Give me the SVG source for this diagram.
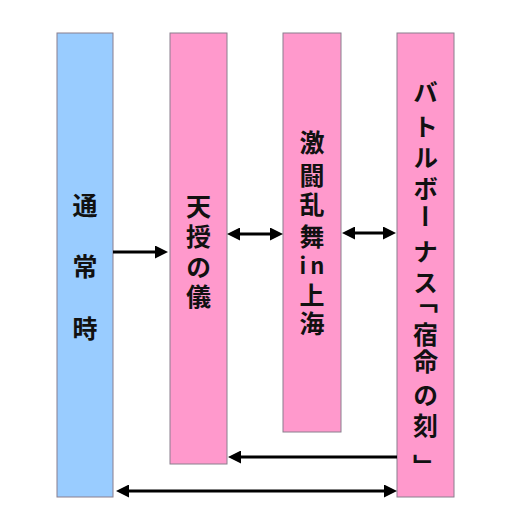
<svg xmlns="http://www.w3.org/2000/svg" width="510" height="530" viewBox="0 0 510 530">
<style>
.box{stroke:#8a7f8e;stroke-width:1}
.blue{fill:#99CCFF}
.pink{fill:#FF99CC}
.t{font-family:"Noto Sans CJK JP","Noto Sans CJK SC",sans-serif;font-size:25px;font-weight:bold;fill:#111;writing-mode:vertical-rl;text-anchor:middle}
.h{font-family:"Noto Sans CJK JP","Noto Sans CJK SC",sans-serif;font-size:22px;font-weight:bold;fill:#111;text-anchor:middle;dominant-baseline:central;letter-spacing:4px}
.c{stroke:#000;stroke-width:3;fill:none}
</style>
<defs>
<marker id="ah" viewBox="0 0 13 13" refX="3" refY="6.5" markerWidth="13" markerHeight="13" markerUnits="userSpaceOnUse" orient="auto-start-reverse">
<path d="M0,0 L13,6.5 L0,13 z" fill="#000"/>
</marker>
</defs>
<rect width="510" height="530" fill="#fff"/>
<g id="n1">
<rect class="box blue" x="57" y="33" width="56" height="464"/>
<text class="t" x="85" y="205 266 328">通常時</text>
</g>
<g id="n2">
<rect class="box pink" x="170" y="33" width="57" height="431"/>
<text class="t" x="198.5" y="206 236 267 296">天授の儀</text>
</g>
<g id="n3">
<rect class="box pink" x="283" y="33" width="58" height="399"/>
<text class="t" x="312" y="142.5 175 204.5 236.5">激闘乱舞</text>
<text class="h" x="314" y="264">in</text>
<text class="t" x="312" y="295 323">上海</text>
</g>
<g id="n4">
<rect class="box pink" x="397" y="33" width="57" height="464"/>
<text class="t" x="425.5" y="92.5 126 157 188 216 251 282.5 300 334 361 395 425 466">バトルボーナス「宿命の刻」</text>
</g>
<g id="connectors">
<line class="c" x1="113" y1="252" x2="158" y2="252" marker-end="url(#ah)"/>
<line class="c" x1="237" y1="234" x2="273" y2="234" marker-start="url(#ah)" marker-end="url(#ah)"/>
<line class="c" x1="352" y1="233" x2="386" y2="233" marker-start="url(#ah)" marker-end="url(#ah)"/>
<line class="c" x1="397" y1="457" x2="238" y2="457" marker-end="url(#ah)"/>
<line class="c" x1="126" y1="491" x2="387" y2="491" marker-start="url(#ah)" marker-end="url(#ah)"/>
</g>
</svg>
